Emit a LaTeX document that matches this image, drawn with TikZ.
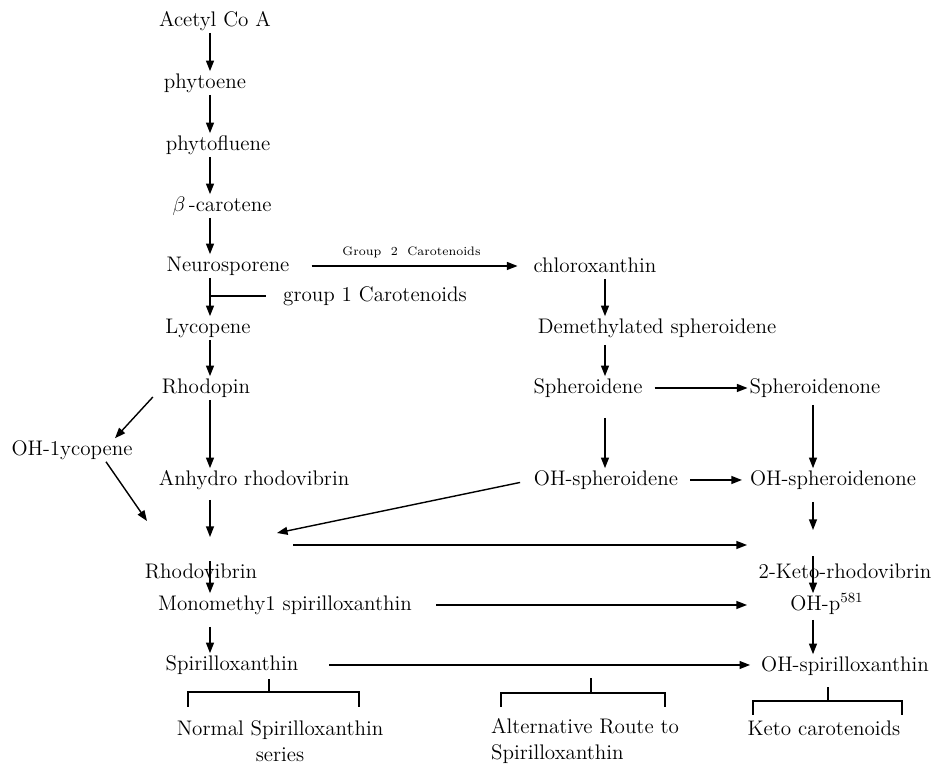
\documentclass[tikz,border=0pt]{standalone}
\usepackage{amsmath}
\usepackage{tikz}
\usetikzlibrary{positioning, arrows.meta, calc}
\usepackage{xcolor}

\begin{document}
\begin{tikzpicture}[x=0.02cm, y=-0.02cm, every node/.style={font=\large}]
  \tikzstyle{compound} = [inner sep=1pt, text height=8.5pt, text depth=2.5pt]
  \tikzstyle{caption} = [inner sep=1pt, align=center]
  \tikzstyle{arrow} = [line width=0.8pt,->,>={Triangle[length=6pt,width=4.5pt]}]
  \tikzstyle{bracket} = [line width=0.8pt]

  \useasboundingbox (0,0) rectangle (941,766);

  % columns of the three series
  \coordinate (colA) at (210,0);
  \coordinate (colB) at (605,0);
  \coordinate (colC) at (813,0);
  \coordinate (colR) at (747,0);

  % left column
  \node (acetyl) [compound] at (215,21) {Acetyl Co A};
  \node (phytoene) [compound] at (205,83) {phytoene};
  \node (phytofluene) [compound] at (218,145) {phytofluene};
  \node (bcarotene) [compound] at (222,206) {$\beta$\,-carotene};
  \node (neuro) [compound] at (228,266) {Neurosporene};
  \node (group1) [compound] at (375,296) {group 1 Carotenoids};
  \node (lycopene) [compound] at (208,328) {Lycopene};
  \node (rhodopin) [compound] at (206,388) {Rhodopin};
  \node (ohlyc) [compound] at (72,450) {OH-1ycopene};
  \node (anhydro) [compound] at (254,480) {Anhydro rhodovibrin};
  \node (rhodovibrin) [compound] at (201,573) {Rhodovibrin};
  \node (monomethyl) [compound] at (285,605) {Monomethy1 spirilloxanthin};
  \node (spirillo) [compound] at (232,665) {Spirilloxanthin};

  % middle column
  \node (chloro) [compound] at (595,267) {chloroxanthin};
  \node (demeth) [compound] at (657,328) {Demethylated spheroidene};
  \node (spheroidene) [compound] at (588,388) {Spheroidene};
  \node (ohsph) [compound] at (606,480) {OH-spheroidene};

  % right column
  \node (spheroidenone) [compound] at (815,388) {Spheroidenone};
  \node (ohsphone) [compound] at (833,480) {OH-spheroidenone};
  \node (keto2) [compound] at (845,573) {2-Keto-rhodovibrin};
  \node (ohp) [compound] at (827,605) {OH-p$^{581}$};
  \node (ohspx) [compound] at (845,666) {OH-spirilloxanthin};

  % free ends
  \coordinate (join) at (210,537);
  \coordinate (lyend) at (147,521);
  \coordinate (sphend) at (277,533);
  \coordinate (rvstart) at (293,545);
  \coordinate (rvend) at (747,545);
  \coordinate (sphoneend) at (813,530);

  % main chain
  \draw [arrow] (acetyl.south -| colA) -- (phytoene.north -| colA);
  \draw [arrow] (phytoene.south -| colA) -- (phytofluene.north -| colA);
  \draw [arrow] (phytofluene.south -| colA) -- (bcarotene.north -| colA);
  \draw [arrow] (bcarotene.south -| colA) -- (neuro.north -| colA);
  \draw [arrow] (neuro.south -| colA) -- (lycopene.north -| colA);
  \draw [bracket, shorten >=0.3cm] (group1.west -| colA) -- (group1.west);
  \draw [arrow] (lycopene.south -| colA) -- (rhodopin.north -| colA);
  \draw [arrow] (rhodopin.south -| colA) -- (anhydro.north -| colA);
  \draw [arrow] ($(rhodopin.west)+(-7,9)$) -- ($(ohlyc.north)+(43,0)$);
  \draw [arrow] ($(ohlyc.south)+(34,0)$) -- (lyend);
  \draw [arrow, shorten <=0.16cm] (anhydro.south -| colA) -- (join);
  \draw [arrow] (rvstart) -- (rvend);
  \draw [arrow] (rhodovibrin.north -| colA) -- (monomethyl.north -| colA);
  \draw [arrow, shorten <=0.2cm] (monomethyl.south -| colA) -- (spirillo.north -| colA);
  \draw [arrow, shorten <=0.45cm] (monomethyl.east) -- (ohp -| colR);
  \draw [arrow, shorten <=0.58cm, shorten >=0.18cm] (spirillo.east) -- (spirillo.east -| ohspx.west);

  % group 2 branch
  \draw [arrow, shorten <=0.4cm, shorten >=0.28cm] (neuro.east) -- node [above=1pt, font=\scriptsize] {Group\ \ 2\ \ Carotenoids} (neuro.east -| chloro.west);
  \draw [arrow] (chloro.south -| colB) -- (demeth.north -| colB);
  \draw [arrow, shorten <=0.1cm] (demeth.south -| colB) -- (spheroidene.north -| colB);
  \draw [arrow, shorten <=0.2cm] (spheroidene.east) -- (spheroidene.east -| spheroidenone.west);
  \draw [arrow, shorten <=0.36cm] (spheroidene.south -| colB) -- (ohsph.north -| colB);
  \draw [arrow, shorten <=0.1cm] (spheroidenone.south -| colC) -- (ohsphone.north -| colC);
  \draw [arrow, shorten <=0.2cm, shorten >=0.12cm] (ohsph.east) -- (ohsph.east -| ohsphone.west);
  \draw [arrow, shorten <=0.24cm] (ohsph.west) -- (sphend);
  \draw [arrow, shorten <=0.2cm] (ohsphone.south -| colC) -- (sphoneend);
  \draw [arrow, shorten <=-0.1cm] (keto2.north -| colC) -- (ohp.north -| colC);
  \draw [arrow, shorten <=0.06cm] (ohp.south -| colC) -- (ohspx.north -| colC);

  % brackets
  \draw [bracket] (188,707) |- (359,692) -- (359,707);
  \draw [bracket] (269,692) -- (269,679);
  \draw [bracket] (501,707) |- (665,693) -- (665,707);
  \draw [bracket] (591,693) -- (591,678);
  \draw [bracket] (753,715) |- (902,701) -- (902,715);
  \draw [bracket] (828,701) -- (828,687);

  \node (normal) [caption] at (280,741) {Normal Spirilloxanthin\\[1pt]series};
  \node (altroute) [caption, align=left] at (585,741) {Alternative Route to\\[1pt]Spirilloxanthin};
  \node (keto) [caption] at (824,728) {Keto carotenoids};
\end{tikzpicture}
\end{document}
